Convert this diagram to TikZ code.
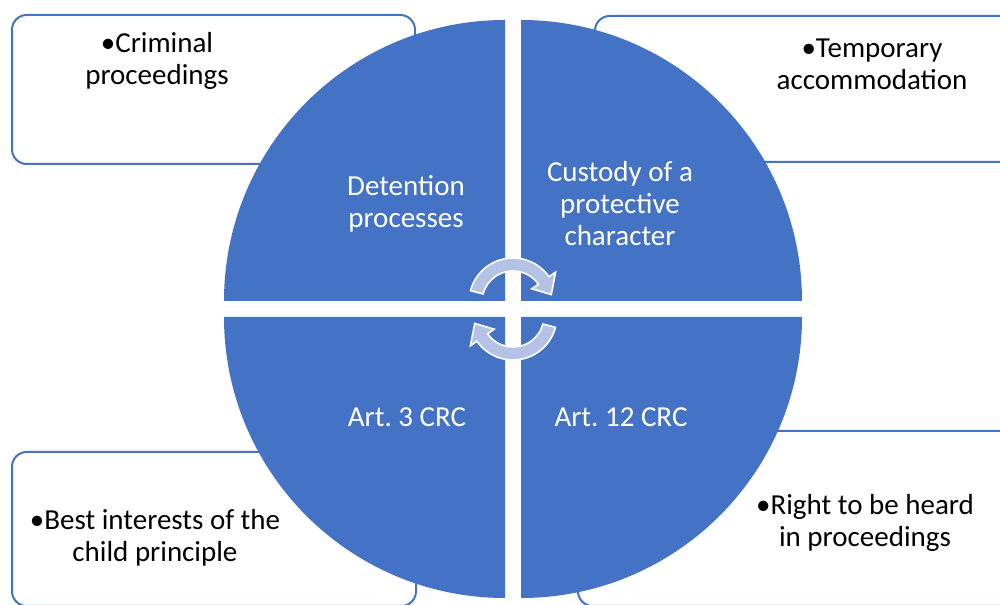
\documentclass[tikz,border=0pt]{standalone}
\usepackage{fontspec}
\setmainfont{Carlito}
\usepackage{xcolor}
\usetikzlibrary{positioning}
\definecolor{segblue}{RGB}{68,114,196}
\definecolor{cyclefill}{RGB}{180,194,229}
\frenchspacing
\tikzset{
        sector/.style = {fill=segblue},
        outerbox/.style = {draw=segblue, line width=1.5pt, fill=white,
            rounded corners=11pt},
        boxtext/.style = {align=center, text=black, inner sep=0pt,
            font=\fontsize{21.75}{24}\selectfont},
        segtext/.style = {align=center, text=white, inner sep=0pt,
            font=\fontsize{21.75}{24}\selectfont},
        cyclearrow/.style = {fill=cyclefill, draw=white, line width=1.2pt},
    }

\begin{document}
\begin{tikzpicture}[x=0.75pt,y=0.75pt,yscale=-1,xscale=1]
\useasboundingbox (0,0) rectangle (1000,605);

%Rounded Rect [id:topleft] 
\draw [outerbox] (12,15) rectangle (415,164) ;
%Rounded Rect [id:topright] 
\draw [outerbox] (595,16) rectangle (1015,162) ;
%Rounded Rect [id:bottomleft] 
\draw [outerbox] (12,452) rectangle (416,606) ;
%Rounded Rect [id:bottomright] 
\draw [outerbox] (578,431) rectangle (1015,606) ;

%Shape: Sector [id:detention] 
\fill [sector] (505,301) -- ++(180:281) arc [start angle=180, end angle=270, radius=281] -- cycle ;
%Shape: Sector [id:custody] 
\fill [sector] (521,301) -- ++(270:281) arc [start angle=270, end angle=360, radius=281] -- cycle ;
%Shape: Sector [id:art12] 
\fill [sector] (521,317) -- ++(0:281) arc [start angle=0, end angle=90, radius=281] -- cycle ;
%Shape: Sector [id:art3] 
\fill [sector] (505,317) -- ++(90:281) arc [start angle=90, end angle=180, radius=281] -- cycle ;

%Shape: Circular Arrow [id:cycletop] 
\begin{scope}[shift={(513,302)}]
\draw [cyclearrow] (195:44) arc [start angle=195, end angle=325, radius=44] -- (325:52) -- (349:39) -- (325:23) -- (325:31) arc [start angle=325, end angle=195, radius=31] -- cycle ;
\end{scope}
%Shape: Circular Arrow [id:cyclebottom] 
\begin{scope}[shift={(513,316)}, rotate=180]
\draw [cyclearrow] (195:44) arc [start angle=195, end angle=325, radius=44] -- (325:52) -- (349:39) -- (325:23) -- (325:31) arc [start angle=325, end angle=195, radius=31] -- cycle ;
\end{scope}

% Text Node
\node [segtext] (detention) at (406,204) {Detention\\processes};
% Text Node
\node [segtext] (custody) at (620,204) {Custody of a\\protective\\character};
% Text Node
\node [segtext] (art3) at (407,417) {Art. 3 CRC};
% Text Node
\node [segtext] (art12) at (621,417) {Art. 12 CRC};

% Text Node
\node [boxtext] (criminal) at (157,61) {\textbullet Criminal\\proceedings};
% Text Node
\node [boxtext] (temporary) at (872,64) {\textbullet Temporary\\accommodation};
% Text Node
\node [boxtext] (interests) at (155,538) {\textbullet Best interests of the\\child principle};
% Text Node
\node [boxtext] (heard) at (865,523) {\textbullet Right to be heard\\in proceedings};

\end{tikzpicture}
\end{document}
